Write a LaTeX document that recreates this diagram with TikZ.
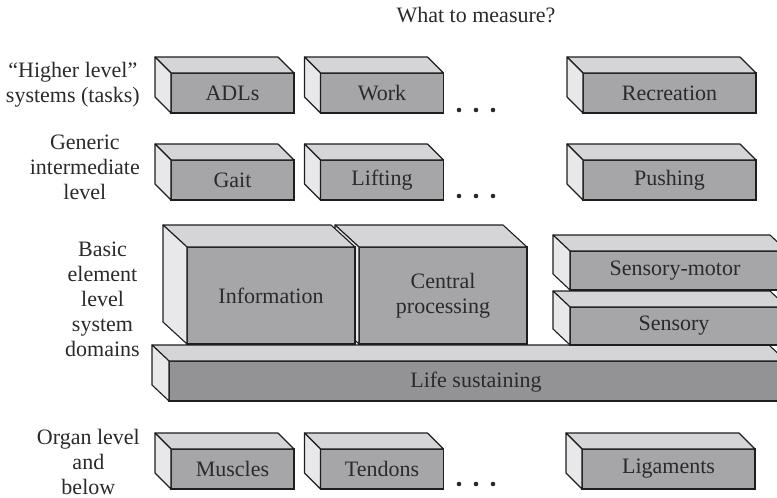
\documentclass[tikz,border=0pt]{standalone}
\usepackage{fontspec}
\setmainfont{Liberation Serif}
\definecolor{frontgray}{HTML}{A6A6A9}
\definecolor{lifegray}{HTML}{939396}
\definecolor{topgray}{HTML}{D5D5D7}
\definecolor{leftgray}{HTML}{E8E8EA}
\definecolor{txt}{HTML}{2A2A2A}
\definecolor{edge}{HTML}{1E1E1E}
\newcommand\cuboidfaces[3]{%
  \draw[topface] (#1.north west) -- ++(-#2,-#3) -- ([shift={(-#2,-#3)}]#1.north east) -- (#1.north east) -- cycle;
  \draw[leftface] (#1.north west) -- ++(-#2,-#3) -- ([shift={(-#2,-#3)}]#1.south west) -- (#1.south west) -- cycle;
}
\begin{document}
\begin{tikzpicture}[x=1pt,y=-1pt,
  every node/.style={font=\fontsize{22}{25}\selectfont, text=txt},
  frontface/.style={draw=edge, line width=1.1pt, fill=frontgray, inner sep=0pt, outer sep=0pt, align=center},
  topface/.style={draw=edge, line width=1.1pt, fill=topgray, line join=round},
  leftface/.style={draw=edge, line width=1.1pt, fill=leftgray, line join=round},
  smallbox/.style={frontface, minimum width=123pt, minimum height=40pt},
  widebox/.style={frontface, minimum width=173pt, minimum height=40pt},
  bigbox/.style={frontface, minimum width=168pt, minimum height=97pt},
  lbl/.style={anchor=east, align=center, inner sep=0pt},
  dotnode/.style={circle, fill=txt, inner sep=0pt, minimum size=4.6pt}]
\useasboundingbox (0,0) rectangle (777,498);
\clip (0,0) rectangle (777,498);

% title
\node (title) at (476,15) {What to measure?};

% left labels
\node[lbl] (l1) at (140,85) {“Higher level”\\systems (tasks)};
\node[lbl] (l2) at (140,167) {Generic\\intermediate\\level};
\node[lbl] (l3) at (140,299) {Basic\\element\\level\\system\\domains};
\node[lbl] (l4) at (140,462) {Organ level\\and\\below};

% row 1
\node[smallbox] (adl) at (232.5,93) {ADLs};  \cuboidfaces{adl}{16}{16}
\node[smallbox] (work) at (382,93) {Work};   \cuboidfaces{work}{16}{16}
\node[widebox] (rec) at (669.5,93) {Recreation}; \cuboidfaces{rec}{16}{16}
\node[dotnode] (d11) at (459,110) {};
\node[dotnode] (d12) at (476,110) {};
\node[dotnode] (d13) at (493,110) {};

% row 2
\node[smallbox] (gait) at (232.5,180) {Gait};  \cuboidfaces{gait}{16}{16}
\node[smallbox] (lift) at (382,180) {Lifting}; \cuboidfaces{lift}{16}{16}
\node[widebox] (push) at (669.5,180) {Pushing}; \cuboidfaces{push}{16}{16}
\node[dotnode] (d21) at (459,196) {};
\node[dotnode] (d22) at (476,196) {};
\node[dotnode] (d23) at (493,196) {};

% basic element level
\node[frontface, fill=lifegray, minimum width=617pt, minimum height=40pt] (life) at (477.5,381) {};
\cuboidfaces{life}{17}{16}
\node (lifet) at (476,382) {Life sustaining};

\node[frontface, minimum width=217pt, minimum height=38pt] (sens) at (678.5,326) {};
\cuboidfaces{sens}{17}{16}
\node (senst) at (674,326) {Sensory};

\node[frontface, minimum width=217pt, minimum height=39pt] (smot) at (678.5,270.5) {};
\cuboidfaces{smot}{17}{16}
\node (smott) at (675,271) {Sensory-motor};

\node[bigbox] (cent) at (443,295.5) {Central\\processing};
\cuboidfaces{cent}{24}{22}
\node[bigbox] (info) at (271,295.5) {Information};
\cuboidfaces{info}{24}{22}

% bottom row
\node[smallbox] (musc) at (232.5,469) {Muscles}; \cuboidfaces{musc}{16}{16}
\node[smallbox] (tend) at (382,469) {Tendons};   \cuboidfaces{tend}{16}{16}
\node[widebox] (liga) at (668.5,469) {Ligaments}; \cuboidfaces{liga}{16}{16}
\node[dotnode] (d31) at (459,484) {};
\node[dotnode] (d32) at (476,484) {};
\node[dotnode] (d33) at (493,484) {};
\end{tikzpicture}
\end{document}
